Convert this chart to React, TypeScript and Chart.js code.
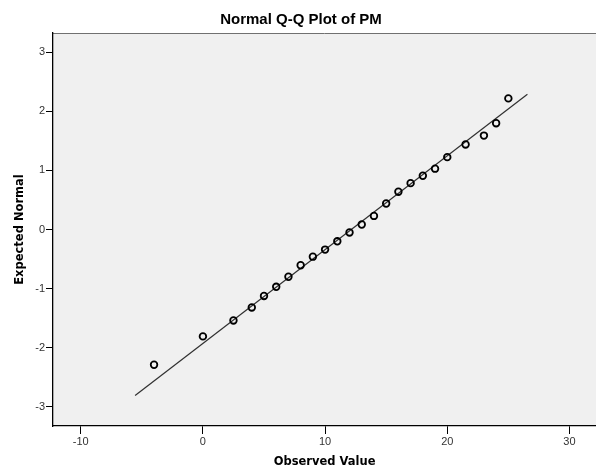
import React, { useEffect, useRef } from "react";
import { Chart, registerables } from "chart.js";

Chart.register(...registerables);

const chartTitle = "Normal Q-Q Plot of PM";
const xAxisTitle = "Observed Value";
const yAxisTitle = "Expected Normal";

const observedValues = [-4, 0, 2.5, 4, 5, 6, 7, 8, 9, 10, 11, 12, 13, 14, 15, 16, 17, 18, 19, 20, 21.5, 23, 24, 25];
const expectedNormal = [-2.29, -1.81, -1.54, -1.32, -1.125, -0.97, -0.8, -0.605, -0.46, -0.34, -0.2, -0.05, 0.085, 0.23, 0.44, 0.64, 0.785, 0.91, 1.03, 1.225, 1.44, 1.59, 1.8, 2.22];

const lineX = [-5.55, 26.56];
const lineY = [-2.81, 2.29];

const xTicks = [-10, 0, 10, 20, 30];
const yTicks = [-3, -2, -1, 0, 1, 2, 3];

const xMin = -12.27;
const xMax = 32.19;
const yMin = -3.327;
const yMax = 3.327;

const plotBg = {
  id: "plotBg",
  beforeDraw(chart: any) {
    const { ctx, chartArea } = chart;
    ctx.save();
    ctx.fillStyle = "#f0f0f0";
    ctx.fillRect(chartArea.left, chartArea.top, chartArea.right - chartArea.left, chartArea.bottom - chartArea.top);
    ctx.strokeStyle = "#707070";
    ctx.lineWidth = 1;
    ctx.beginPath();
    ctx.moveTo(chartArea.left, chartArea.top + 0.5);
    ctx.lineTo(chartArea.right, chartArea.top + 0.5);
    ctx.stroke();
    ctx.restore();
  },
};

export default function App() {
  const ref = useRef<HTMLCanvasElement>(null);
  useEffect(() => {
    document.body.style.margin = "0";
    const canvas = ref.current!;
    const chart = new Chart(canvas, {
      type: "scatter",
      data: {
        datasets: [
          {
            label: "Observed",
            data: observedValues.map((x, i) => ({ x, y: expectedNormal[i] })),
            pointRadius: 3.3,
            pointBorderWidth: 1.8,
            borderColor: "#000",
            backgroundColor: "rgba(0,0,0,0)",
            pointBackgroundColor: "rgba(0,0,0,0)",
            pointBorderColor: "#000",
            order: 0,
          },
          {
            label: "Fit",
            data: lineX.map((x, i) => ({ x, y: lineY[i] })),
            showLine: true,
            pointRadius: 0,
            borderColor: "#303030",
            borderWidth: 1.2,
            order: 1,
          },
        ],
      },
      options: {
        animation: false,
        responsive: false,
        devicePixelRatio: 1,
        layout: { padding: 0 },
        plugins: {
          legend: { display: false },
          tooltip: { enabled: false },
          title: {
            display: true,
            text: chartTitle,
            color: "#000",
            font: { family: "'Liberation Sans', Arial, sans-serif", size: 15, weight: "bold", lineHeight: 1.2 },
            padding: { top: 11, bottom: 4 },
          },
        },
        scales: {
          x: {
            type: "linear",
            min: xMin,
            max: xMax,
            afterBuildTicks: (s: any) => {
              s.ticks = xTicks.map((v) => ({ value: v }));
            },
            afterFit: (s: any) => {
              s.height = 45;
              s.paddingRight = 0;
              s.paddingLeft = 0;
            },
            grid: { drawOnChartArea: false, drawTicks: true, tickLength: 8, color: "#000", tickWidth: 1 },
            border: { display: true, color: "#000", width: 1.3 },
            ticks: {
              color: "#333",
              padding: 1,
              maxRotation: 0,
              font: { family: "'Liberation Sans', Arial, sans-serif", size: 11 },
            },
            title: {
              display: true,
              text: xAxisTitle,
              color: "#000",
              font: { family: "'DejaVu Sans', sans-serif", size: 11.5, weight: "bold", lineHeight: 1.2 },
              padding: { top: 0, bottom: 1.6 },
            },
          },
          y: {
            type: "linear",
            min: yMin,
            max: yMax,
            afterBuildTicks: (s: any) => {
              s.ticks = yTicks.map((v) => ({ value: v }));
            },
            afterFit: (s: any) => {
              s.width = 53;
              s.paddingTop = 0;
              s.paddingBottom = 0;
            },
            grid: { drawOnChartArea: false, drawTicks: true, tickLength: 7, color: "#000", tickWidth: 1 },
            border: { display: true, color: "#000", width: 1.3 },
            ticks: {
              color: "#333",
              padding: 1,
              font: { family: "'Liberation Sans', Arial, sans-serif", size: 11 },
            },
            title: {
              display: true,
              text: yAxisTitle,
              color: "#000",
              font: { family: "'DejaVu Sans', sans-serif", size: 11.5, weight: "bold", lineHeight: 1.2 },
              padding: { top: 13, bottom: 0 },
            },
          },
        },
      },
      plugins: [plotBg],
    });
    return () => chart.destroy();
  }, []);
  return (
    <div style={{ width: 596, height: 471, background: "#fff", overflow: "hidden" }}>
      <canvas ref={ref} width={602} height={471} style={{ display: "block" }} />
    </div>
  );
}
